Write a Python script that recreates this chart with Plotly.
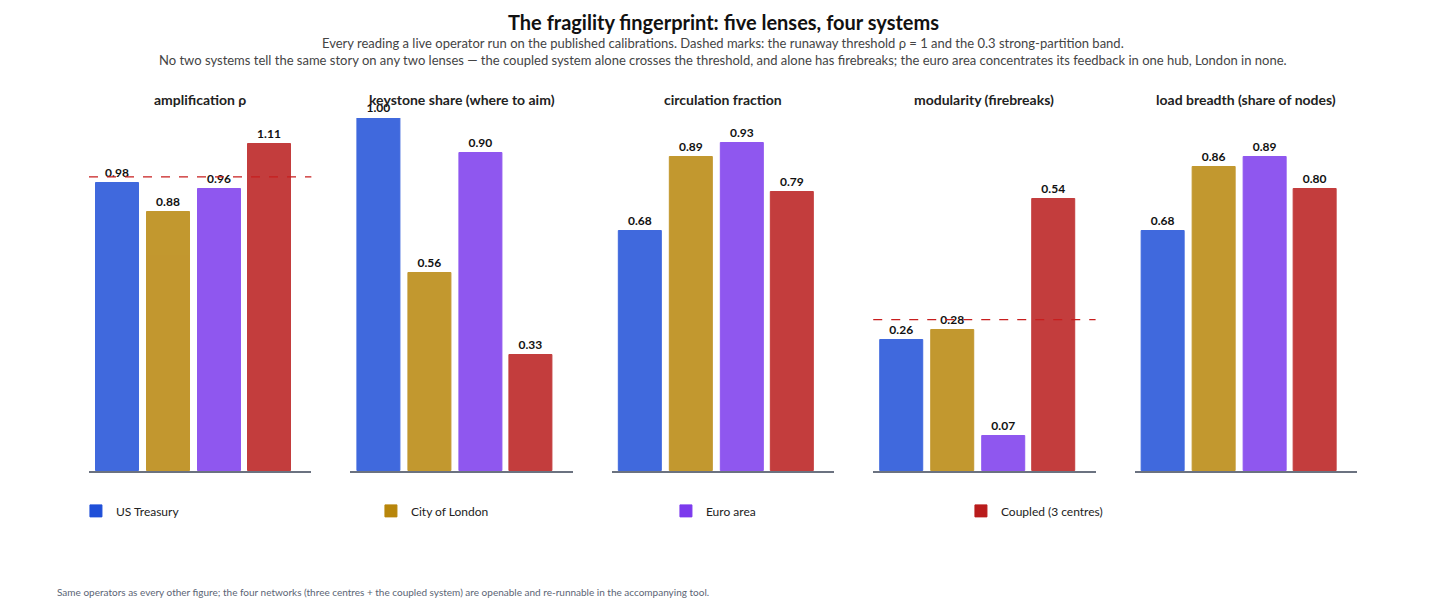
import plotly.graph_objects as go
from plotly.subplots import make_subplots

# lenses (one panel each) and the four systems
lenses = ["amplification ρ", "keystone share (where to aim)", "circulation fraction",
          "modularity (firebreaks)", "load breadth (share of nodes)"]
systems = ["US Treasury", "City of London", "Euro area", "Coupled (3 centres)"]

us_treasury = [0.98, 1.00, 0.68, 0.26, 0.68]
city_of_london = [0.88, 0.56, 0.89, 0.28, 0.86]
euro_area = [0.96, 0.90, 0.93, 0.07, 0.89]
coupled = [1.11, 0.33, 0.79, 0.54, 0.80]

y_max = [1.2, 1.0, 1.0, 0.7, 1.0]
thresholds = {0: 1.0, 3: 0.3}  # panel index -> dashed reference value

colors = ["#1F4FD8", "#B8860B", "#7C3AED", "#B91C1C"]
series = [us_treasury, city_of_london, euro_area, coupled]

FONT = "Lato, 'Source Sans Pro', sans-serif"

fig = make_subplots(rows=1, cols=5, horizontal_spacing=0.0308)

for s, (name, vals, col) in enumerate(zip(systems, series, colors)):
    for p in range(len(lenses)):
        fig.add_trace(go.Bar(
            x=[s], y=[vals[p]], name=name, legendgroup=name, showlegend=(p == 0),
            marker=dict(color=col, opacity=0.85, line=dict(color=col, width=1)),
            width=0.85, text=[f"<b>{vals[p]:.2f}</b>"], textposition="outside",
            textfont=dict(family=FONT, size=12, color="#111"), cliponaxis=False,
            hovertemplate=f"{name}<br>{lenses[p]}: %{{y:.2f}}<extra></extra>",
        ), row=1, col=p + 1)

for p in range(len(lenses)):
    fig.update_xaxes(range=[-0.57, 3.82], showticklabels=False, showgrid=False, zeroline=False,
                     showline=True, linecolor="#6B7280", linewidth=1.5, ticks="", row=1, col=p + 1)
    fig.update_yaxes(range=[0, y_max[p]], visible=False, row=1, col=p + 1)

xaxes = ["x", "x2", "x3", "x4", "x5"]
yaxes = ["y", "y2", "y3", "y4", "y5"]
for p, v in thresholds.items():
    fig.add_shape(type="line", xref=f"{xaxes[p]} domain", yref=yaxes[p], x0=0, x1=1, y0=v, y1=v,
                  line=dict(color="#C81E1E", width=1.3, dash="dash"))

annotations = []
for p, lens in enumerate(lenses):
    dom = fig.layout[f"xaxis{'' if p == 0 else p + 1}"].domain
    annotations.append(dict(text=f"<b>{lens}</b>", x=(dom[0] + dom[1]) / 2, y=1, xref="paper",
                            yref="paper", xanchor="center", yanchor="bottom", yshift=8,
                            showarrow=False, font=dict(family=FONT, size=14, color="#222")))

annotations += [
    dict(text="<b>The fragility fingerprint: five lenses, four systems</b>", x=0.5, y=1, xref="paper",
         yref="paper", xanchor="center", yshift=96, yanchor="middle", showarrow=False,
         font=dict(family=FONT, size=20, color="#111")),
    dict(text="Every reading a live operator run on the published calibrations. Dashed marks: the runaway "
              "threshold ρ = 1 and the 0.3 strong-partition band.",
         x=0.5, y=1, xref="paper", yref="paper", xanchor="center", yshift=75, yanchor="middle",
         showarrow=False, font=dict(family=FONT, size=13, color="#444")),
    dict(text="No two systems tell the same story on any two lenses — the coupled system alone crosses the "
              "threshold, and alone has firebreaks; the euro area concentrates its feedback in one hub, "
              "London in none.",
         x=0.5, y=1, xref="paper", yref="paper", xanchor="center", yshift=58, yanchor="middle",
         showarrow=False, font=dict(family=FONT, size=13, color="#444")),
    dict(text="Same operators as every other figure; the four networks (three centres + the coupled system) "
              "are openable and re-runnable in the accompanying tool.",
         x=-34 / 1268, y=0, xref="paper", yref="paper", xanchor="left", yanchor="middle", yshift=-121,
         showarrow=False, font=dict(family=FONT, size=10, color="#5B6575")),
]

fig.update_layout(
    width=1456, height=610,
    margin=dict(l=81, r=107, t=110, b=147),
    paper_bgcolor="white", plot_bgcolor="white",
    font=dict(family=FONT, color="#222"),
    barmode="overlay", bargap=0,
    annotations=annotations,
    legend=dict(orientation="h", x=-0.0103, xanchor="left", y=-0.113, yanchor="middle",
                entrywidth=250, entrywidthmode="pixels", itemwidth=30,
                font=dict(family=FONT, size=12, color="#222"), traceorder="normal"),
)

fig.write_html("out.html")
